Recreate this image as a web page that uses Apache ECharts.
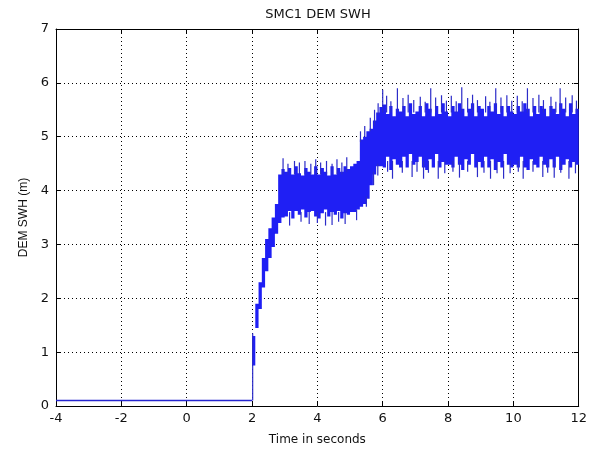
<!DOCTYPE html>
<html><head><meta charset="utf-8">
<script src="https://cdn.jsdelivr.net/npm/echarts@6/dist/echarts.min.js"></script>
<style>html,body{margin:0;padding:0;background:#fff}#c{width:590px;height:451px}</style>
</head><body><div id="c"></div>
<script>
// ---- data ----
const titleText = 'SMC1 DEM SWH';
const xName = 'Time in seconds';
const yName = 'DEM SWH (m)';
const xMin = -4, xMax = 12, xStep = 2;
const yMin = 0, yMax = 7, yStep = 1;

// quiet period before t = 2 s
const baseT = [-4, 2];
const baseV = [0.1, 0.1];

// noisy signal envelope, sampled every 0.1 s from t = 2.0 s
const bandStart = 2.0, bandStep = 0.1;
const bandHigh = [
  1.3,1.9,2.3,2.75,3.1,3.3,3.5,3.75,4.3,4.4,
  4.35,4.42,4.3,4.45,4.32,4.28,4.42,4.35,4.3,4.45,
  4.3,4.42,4.35,4.28,4.45,4.3,4.42,4.35,4.45,4.4,
  4.45,4.5,4.55,4.95,5.0,5.1,5.15,5.3,5.45,5.55,
  5.6,5.42,5.57,5.38,5.52,5.47,5.57,5.38,5.62,5.42,
  5.47,5.57,5.38,5.62,5.52,5.38,5.57,5.42,5.62,5.47,
  5.38,5.57,5.47,5.62,5.52,5.38,5.52,5.62,5.38,5.57,
  5.52,5.38,5.57,5.47,5.62,5.42,5.57,5.38,5.57,5.47,
  5.42,5.57,5.47,5.62,5.52,5.38,5.57,5.42,5.57,5.52,
  5.38,5.57,5.52,5.42,5.62,5.52,5.38,5.62,5.42,5.52
];
const bandLow = [
  0.75,1.45,1.8,2.2,2.5,2.75,2.95,3.2,3.4,3.5,
  3.52,3.62,3.48,3.62,3.55,3.65,3.5,3.6,3.62,3.52,
  3.48,3.58,3.65,3.52,3.6,3.55,3.62,3.48,3.58,3.55,
  3.6,3.6,3.65,3.7,3.75,3.85,4.1,4.3,4.45,4.45,
  4.43,4.63,4.38,4.58,4.48,4.43,4.63,4.43,4.68,4.48,
  4.53,4.63,4.43,4.38,4.58,4.43,4.68,4.43,4.53,4.48,
  4.48,4.43,4.63,4.48,4.38,4.58,4.48,4.68,4.43,4.53,
  4.43,4.63,4.43,4.58,4.38,4.53,4.43,4.68,4.48,4.43,
  4.48,4.43,4.63,4.43,4.38,4.58,4.48,4.43,4.63,4.48,
  4.43,4.58,4.43,4.63,4.38,4.48,4.58,4.43,4.53,4.48
];
// individual spikes: [time, from, to]
const spikes = [
  [2.02,0.1,1.35],
  [2.95,4.3,4.6],[3.3,4.3,4.55],[3.62,4.3,4.55],[3.95,4.3,4.58],[4.28,4.3,4.55],[4.6,4.3,4.58],[4.9,4.35,4.62],
  [3.1,4.3,4.5],[3.45,4.3,4.52],[3.8,4.3,4.5],[4.1,4.3,4.52],[4.45,4.3,4.5],[4.75,4.3,4.52],
  [3.15,3.6,3.35],[3.75,3.6,3.38],[4.25,3.6,3.35],[4.85,3.6,3.38],[4.45,3.6,3.36],[3.5,3.6,3.42],[4.0,3.6,3.4],[4.65,3.6,3.42],
  [5.2,3.65,3.45],[5.5,3.9,3.7],[5.72,4.35,4.1],[5.85,4.5,4.28],
  [5.32,4.9,5.1],[5.45,5.0,5.2],[5.62,5.1,5.35],[5.75,5.2,5.5],[5.86,5.4,5.62],[6.0,5.45,5.87],
  [6.45,5.45,5.9],[7.47,5.45,5.9],[8.42,5.45,5.92],[9.46,5.45,5.9],[10.43,5.45,5.9],[11.43,5.45,5.9],
  [6.12,5.45,5.76],[6.78,5.45,5.78],[7.15,5.45,5.74],[7.8,5.45,5.77],[8.1,5.45,5.76],[8.75,5.45,5.78],
  [9.15,5.45,5.75],[9.8,5.45,5.77],[10.12,5.45,5.76],[10.78,5.45,5.78],[11.15,5.45,5.74],[11.8,5.45,5.77],
  [6.62,5.45,5.72],[7.62,5.45,5.73],[8.6,5.45,5.72],[9.62,5.45,5.73],[10.6,5.45,5.72],[11.6,5.45,5.73],
  [6.25,5.45,5.66],[6.95,5.45,5.68],[7.3,5.45,5.65],[7.95,5.45,5.67],[8.25,5.45,5.66],[8.9,5.45,5.68],
  [9.28,5.45,5.65],[9.95,5.45,5.67],[10.27,5.45,5.66],[10.92,5.45,5.68],[11.3,5.45,5.65],[11.93,5.45,5.67],
  [6.3,4.55,4.22],[7.25,4.55,4.22],[8.35,4.55,4.24],[9.3,4.55,4.22],[10.3,4.55,4.22],[11.25,4.55,4.24],
  [6.9,4.55,4.25],[7.7,4.55,4.22],[8.9,4.55,4.25],[9.7,4.55,4.22],[10.9,4.55,4.25],[11.7,4.55,4.22],
  [6.6,4.55,4.33],[7.05,4.55,4.35],[7.9,4.55,4.32],[8.6,4.55,4.35],[9.1,4.55,4.33],[9.9,4.55,4.32],
  [10.6,4.55,4.35],[11.05,4.55,4.33],[11.9,4.55,4.32],[6.15,4.55,4.35],[7.4,4.55,4.33],[8.15,4.55,4.35],
  [9.5,4.55,4.32],[10.15,4.55,4.35],[11.45,4.55,4.33]
];

// ---- build series data ----
const baseData = baseT.map((t, i) => [t, baseV[i]]);
const bandTimes = bandHigh.map((h, i) => +(bandStart + i * bandStep).toFixed(2));

const BLUE = '#1f1ff4';
const SPIKE = '#2c2cc8';

const chart = echarts.init(document.getElementById('c'), null, {renderer: 'canvas'});
const tickFont = {fontFamily: 'DejaVu Sans', fontSize: 13, color: '#111'};
chart.setOption({
  animation: false,
  backgroundColor: '#fff',
  title: {
    text: titleText, left: 318, top: 8, textAlign: 'center', padding: 0,
    textStyle: {fontFamily: 'DejaVu Sans', fontSize: 13, fontWeight: 'normal', color: '#111'}
  },
  grid: {left: 56, right: 3, top: 29, bottom: 42, containLabel: false},
  xAxis: [{
    type: 'value', min: xMin, max: xMax, interval: xStep, position: 'bottom',
    name: xName, nameLocation: 'middle', nameGap: 28,
    nameTextStyle: {fontFamily: 'DejaVu Sans', fontSize: 12, color: '#111'},
    axisLine: {show: true, onZero: false, lineStyle: {color: '#000', width: 1}},
    axisTick: {show: true, inside: true, length: 5, lineStyle: {color: '#000'}},
    axisLabel: Object.assign({margin: 6}, tickFont),
    splitLine: {show: true, lineStyle: {type: [1, 3], color: '#000', width: 1}}
  }, {
    type: 'value', min: xMin, max: xMax, interval: xStep, position: 'top',
    axisLine: {show: true, onZero: false, lineStyle: {color: '#000', width: 1}},
    axisTick: {show: true, inside: true, length: 5, lineStyle: {color: '#000'}},
    axisLabel: {show: false}, splitLine: {show: false}
  }],
  yAxis: [{
    type: 'value', min: yMin, max: yMax, interval: yStep, position: 'left',
    name: yName, nameLocation: 'middle', nameGap: 24, nameRotate: 90,
    nameTextStyle: {fontFamily: 'Liberation Sans', fontSize: 12, color: '#111'},
    axisLine: {show: true, onZero: false, lineStyle: {color: '#000', width: 1}},
    axisTick: {show: true, inside: true, length: 5, lineStyle: {color: '#000'}},
    axisLabel: Object.assign({margin: 7}, tickFont),
    splitLine: {show: true, lineStyle: {type: [1, 3], color: '#000', width: 1}}
  }, {
    type: 'value', min: yMin, max: yMax, interval: yStep, position: 'right',
    axisLine: {show: true, onZero: false, lineStyle: {color: '#000', width: 1}},
    axisTick: {show: true, inside: true, length: 5, lineStyle: {color: '#000'}},
    axisLabel: {show: false}, splitLine: {show: false}
  }],
  series: [{
    type: 'line', data: baseData, symbol: 'none',
    lineStyle: {color: '#2626d0', width: 1.5}, z: 3
  }, {
    // whole noisy band drawn as one stepped polygon through the axis scales
    type: 'custom', data: [[bandStart, bandLow[0], bandHigh[0]]], clip: true, z: 4,
    encode: {x: 0, y: [1, 2]},
    renderItem: function (params, api) {
      const pts = [];
      for (let i = 0; i < bandTimes.length; i++) {
        pts.push(api.coord([bandTimes[i], bandHigh[i]]));
        pts.push(api.coord([bandTimes[i] + bandStep, bandHigh[i]]));
      }
      for (let i = bandTimes.length - 1; i >= 0; i--) {
        pts.push(api.coord([bandTimes[i] + bandStep, bandLow[i]]));
        pts.push(api.coord([bandTimes[i], bandLow[i]]));
      }
      return {type: 'polygon', shape: {points: pts}, style: {fill: BLUE}};
    }
  }, {
    type: 'custom', data: spikes, clip: true, z: 5,
    encode: {x: 0, y: [1, 2]},
    renderItem: function (params, api) {
      const a = api.coord([api.value(0), api.value(1)]);
      const b = api.coord([api.value(0), api.value(2)]);
      return {type: 'line', shape: {x1: a[0], y1: a[1], x2: b[0], y2: b[1]},
        style: {stroke: SPIKE, lineWidth: 1.2}};
    }
  }]
});
</script>
</body></html>
